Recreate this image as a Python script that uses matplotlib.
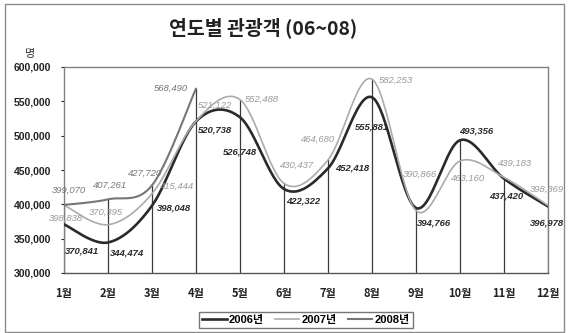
import numpy as np
import matplotlib
matplotlib.use("Agg")
import matplotlib.pyplot as plt
from matplotlib.patches import Rectangle
from matplotlib.lines import Line2D
from matplotlib.ticker import FuncFormatter

plt.rcParams['font.family'] = ['Liberation Sans', 'Noto Sans CJK KR', 'DejaVu Sans']

months = ['1월', '2월', '3월', '4월', '5월', '6월', '7월', '8월', '9월', '10월', '11월', '12월']
series_names = ['2006년', '2007년', '2008년']
v2006 = [370841, 344474, 398048, 520738, 526748, 422322, 452418, 555881, 394766, 493356, 437420, 396978]
v2007 = [398838, 370395, 415444, 521122, 552488, 430437, 464680, 582253, 390866, 463160, 439183, 398369]
v2008 = [399070, 407261, 427720, 568490]

# label offsets in pixels (dx, dy) relative to each point
off2006 = [(18, -27), (19, -11), (22, -2), (19, -9), (0, -35), (19, -12),
           (24, 0), (0, -30), (18, -15), (16, 9), (2, -17), (-1, -17)]
off2007 = [(2, -13), (-2, 12), (25, 7), (19, 16), (22, 0), (13, 18),
           (-10, 21), (24, -1), (4, 36), (8, -17), (11, 14), (-1, 16)]
off2008 = [(5, 15), (2, 14), (-7, 12), (-25, 0)]


def smooth(y, n=30):
    """Cubic Bezier smoothing (Catmull-Rom style) through the points."""
    y = np.asarray(y, dtype=float)
    x = np.arange(len(y), dtype=float)
    xs, ys = [], []
    for i in range(len(y) - 1):
        ym1 = y[i - 1] if i > 0 else y[i]
        yp2 = y[i + 2] if i + 2 < len(y) else y[i + 1]
        xm1 = x[i - 1] if i > 0 else x[i]
        xp2 = x[i + 2] if i + 2 < len(y) else x[i + 1]
        p0 = np.array([x[i], y[i]])
        p3 = np.array([x[i + 1], y[i + 1]])
        p1 = p0 + (p3 - np.array([xm1, ym1])) / 6.0
        p2 = p3 - (np.array([xp2, yp2]) - p0) / 6.0
        t = np.linspace(0, 1, n)[:, None]
        pts = ((1 - t) ** 3) * p0 + 3 * ((1 - t) ** 2) * t * p1 + 3 * (1 - t) * t ** 2 * p2 + t ** 3 * p3
        if i > 0:
            pts = pts[1:]
        xs.append(pts[:, 0])
        ys.append(pts[:, 1])
    return np.concatenate(xs), np.concatenate(ys)


fig = plt.figure(figsize=(5.69, 3.33), dpi=100)
fig.patch.set_facecolor('white')
fig.patches.append(Rectangle((5 / 569, 1 - 332 / 333), 559 / 569, 328 / 333,
                             transform=fig.transFigure, fill=False,
                             edgecolor='#8a8a8a', lw=1.0))

ax = fig.add_axes([64 / 569, 1 - 273 / 333, 484 / 569, 206 / 333])
ax.set_xlim(0, 11)
ax.set_ylim(300000, 600000)

# drop lines from the highest value of each month
all_vals = [v2006, v2007, v2008]
for i in range(len(months)):
    top = max(s[i] for s in all_vals if i < len(s))
    ax.plot([i, i], [300000, top], color='#3a3a3a', lw=0.9, zorder=1)

styles = [('#2a2a2a', 1.9), ('#ababab', 1.2), ('#767676', 1.5)]
label_styles = [dict(color='#2a2a2a', fontweight='bold'),
                dict(color='#9a9a9a'),
                dict(color='#777777')]
offsets = [off2006, off2007, off2008]
for vals, (c, lw), ls, offs in zip(all_vals, styles, label_styles, offsets):
    sx, sy = smooth(vals)
    ax.plot(sx, sy, color=c, lw=lw, zorder=3, solid_capstyle='round')
    for i, v in enumerate(vals):
        ax.annotate(f'{v:,}', (i, v), xytext=offs[i], textcoords='offset pixels',
                    ha='center', va='center', fontsize=6.8, fontstyle='italic',
                    zorder=4, **ls)

ax.set_xticks(range(len(months)))
ax.set_xticklabels(months, fontsize=8, fontweight='bold',
                   family=['Noto Sans CJK KR', 'Liberation Sans'])
ax.set_yticks(np.arange(300000, 600001, 50000))
ax.yaxis.set_major_formatter(FuncFormatter(lambda v, p: f'{int(v):,}'))
for t in ax.get_yticklabels():
    t.set_fontweight('bold')
    t.set_fontsize(7.5)
ax.tick_params(axis='x', length=0, pad=10, colors='#222222')
ax.tick_params(axis='y', length=2, pad=7, colors='#222222', width=0.8)
for s in ax.spines.values():
    s.set_color('#808080')
    s.set_linewidth(1.0)
ax.spines['bottom'].set_color('#555555')

fig.text(263 / 569, 1 - 28 / 333, '연도별 관광객 (06~08)', ha='center', va='center',
         fontsize=14, fontweight='bold', family=['Noto Sans CJK KR', 'DejaVu Sans'],
         color='#222222')
fig.text(30 / 569, 1 - 54 / 333, '명', ha='center', va='center', fontsize=8,
         family=['Noto Sans CJK KR'], color='#333333')

handles = [Line2D([], [], color=c, lw=lw) for c, lw in styles]
leg = fig.legend(handles, series_names, loc='center', ncol=3,
                 bbox_to_anchor=(306 / 569, 1 - 320 / 333),
                 frameon=True, fancybox=False, edgecolor='#555555',
                 prop={'family': ['Liberation Sans', 'Noto Sans CJK KR'], 'size': 8, 'weight': 'bold'},
                 handlelength=2.2, handletextpad=0.2, columnspacing=1.0,
                 borderpad=0.3)
leg.get_frame().set_linewidth(1.0)

fig.savefig('out.png', dpi=100)
